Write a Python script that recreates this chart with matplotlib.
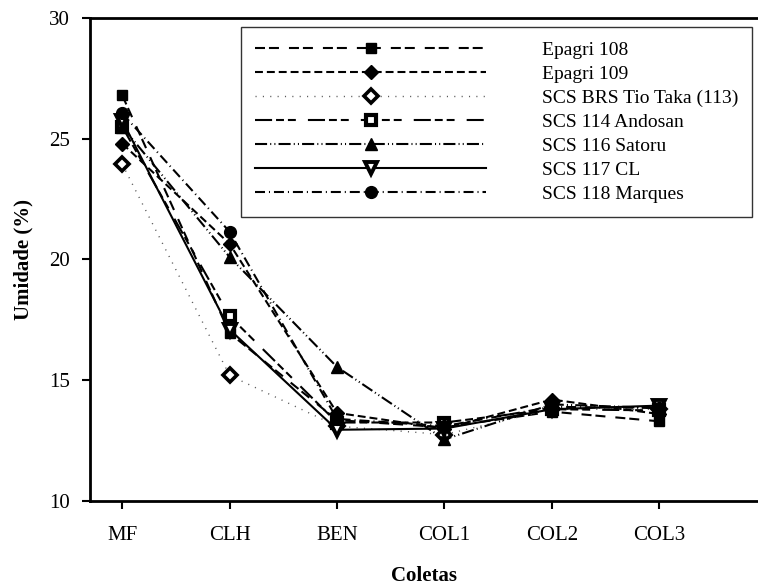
import numpy as np
import matplotlib
matplotlib.use("Agg")
import matplotlib.pyplot as plt

plt.rcParams['font.family'] = ['Liberation Serif', 'DejaVu Serif']

coletas = ["MF", "CLH", "BEN", "COL1", "COL2", "COL3"]
names = ["Epagri 108", "Epagri 109", "SCS BRS Tio Taka (113)", "SCS 114 Andosan",
         "SCS 116 Satoru", "SCS 117 CL", "SCS 118 Marques"]

epagri_108 = [26.8, 16.95, 13.35, 13.05, 13.7, 13.3]
epagri_109 = [24.8, 20.65, 13.65, 13.0, 14.2, 13.6]
scs_113 = [23.95, 15.2, 13.1, 12.75, 13.8, 13.8]
scs_114 = [25.5, 17.65, 13.25, 13.25, 13.8, 13.75]
scs_116 = [25.5, 20.1, 15.55, 12.55, 14.0, 13.85]
scs_117 = [25.75, 17.1, 12.95, 13.0, 13.8, 13.95]
scs_118 = [26.05, 21.15, 13.4, 13.1, 13.9, 13.85]

series = [epagri_108, epagri_109, scs_113, scs_114, scs_116, scs_117, scs_118]
styles = [
    dict(ls=(0, (4.8, 1.9, 4.8, 4.8)), lw=1.5, marker='s', mfc='black', ms=7.5),
    dict(ls=(0, (3.8, 1.9)), lw=1.5, marker='D', mfc='black', ms=7.5),
    dict(ls=(0, (0.8, 4.5)), lw=1.0, color='0.35', marker='D', mfc='white', ms=7.5, mew=2.6),
    dict(ls=(0, (8.2, 1.9, 3.8, 1.9, 3.8, 5.8)), lw=1.5, marker='s', mfc='white', ms=7.5, mew=3.0),
    dict(ls=(0, (5.8, 1.5, 0.5, 1.5, 0.5, 1.5)), lw=1.5, marker='^', mfc='black', ms=8.5),
    dict(ls='-', lw=1.5, marker='v', mfc='white', ms=8.5, mew=2.8),
    dict(ls=(0, (4.8, 1.9, 0.5, 1.9)), lw=1.5, marker='o', mfc='black', ms=8.5),
]

W, H = 758, 586
fig = plt.figure(figsize=(W / 100, H / 100), dpi=100)
ax = fig.add_axes([90 / W, (H - 501) / H, 1.0 - 90 / W, (501 - 18) / H])

x = np.arange(1, len(coletas) + 1)
for name, vals, st in zip(names, series, styles):
    st = dict(st)
    color = st.pop('color', 'black')
    ax.plot(x, vals, color=color, markeredgecolor='black', label=name, **st)

ax.set_xlim(0.70, 6.92)
ax.set_ylim(10, 30)
ax.set_yticks([10, 15, 20, 25, 30])
ax.set_xticks(x)
ax.set_xticklabels(coletas)
ax.tick_params(axis='both', direction='out', length=5.8, width=1.5, labelsize=15)
ax.tick_params(axis='y', pad=8.5)
ax.tick_params(axis='x', pad=12)
for s in ['left', 'bottom', 'top']:
    ax.spines[s].set_linewidth(2)
ax.spines['right'].set_visible(False)

ax.set_xlabel("Coletas", fontsize=15, fontweight='bold')
ax.xaxis.set_label_coords(0.5, -(566 - 501) / 483)
ax.set_ylabel("Umidade (%)", fontsize=15, fontweight='bold')
ax.yaxis.set_label_coords(-(90 - 33) / 668, 0.5)

leg = ax.legend(loc='upper left', bbox_to_anchor=(241 / W, 1 - 27 / H),
                bbox_transform=fig.transFigure, borderaxespad=0,
                fontsize=14, handlelength=11.9, handletextpad=2.85,
                labelspacing=0.33, borderpad=0.72, frameon=True, fancybox=False)
leg.get_frame().set_edgecolor('black')
leg.get_frame().set_linewidth(1.0)

fig.savefig("out.png", dpi=100)
